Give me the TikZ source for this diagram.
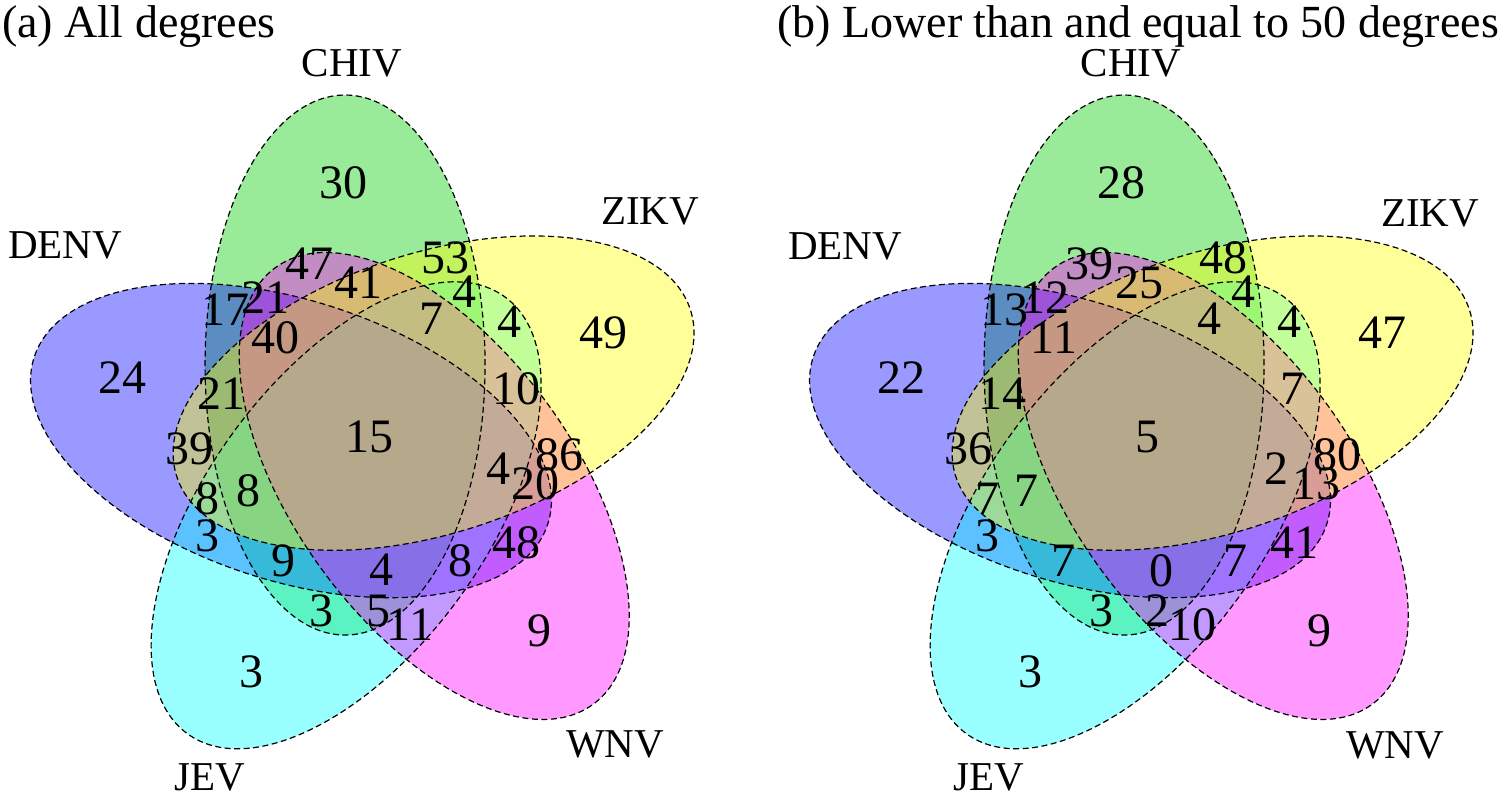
\documentclass[tikz,border=0pt]{standalone}
\usepackage{fontspec}
\setmainfont{Liberation Serif}
\definecolor{cCHIV}{RGB}{0,205,0}
\definecolor{cDENV}{RGB}{0,0,255}
\definecolor{cJEV}{RGB}{0,255,255}
\definecolor{cWNV}{RGB}{255,0,255}
\definecolor{cZIKV}{RGB}{255,255,0}
\begin{document}
\begin{tikzpicture}[x=1pt,y=1pt,
  vline/.style={draw=black, dash pattern=on 6pt off 3.5pt, line width=1.2pt},
  num/.style={inner sep=0pt, font=\fontsize{48}{50}\selectfont},
  setlabel/.style={inner sep=0pt, anchor=base, font=\fontsize{41}{44}\selectfont},
  ttl/.style={inner sep=0pt, anchor=base west, font=\fontsize{46}{48}\selectfont}]
\useasboundingbox (0,0) rectangle (1498,796);
\foreach \cx/\p in {370/a,1149/b}{
  \coordinate (C\p) at (\cx,356);
  \foreach \k/\col in {0/cCHIV,1/cDENV,2/cJEV,3/cWNV,4/cZIKV}{
    \begin{scope}[shift={(C\p)}, rotate=72*\k]
      \fill[\col, fill opacity=0.4] (108.4:79pt) ellipse [x radius=140pt, y radius=270pt];
    \end{scope}
  }
  \foreach \k in {0,...,4}{
    \begin{scope}[shift={(C\p)}, rotate=72*\k]
      \draw[vline] (108.4:79pt) ellipse [x radius=140pt, y radius=270pt];
    \end{scope}
  }
}
% titles
\node[ttl] (ta) at (2,758) {(a) All degrees};
\node[ttl] (tb) at (777,758) {(b) Lower than and equal to 50 degrees};
% set labels
\node[setlabel] (aDENV) at (65,537) {DENV};
\node[setlabel] (aCHIV) at (352,719) {CHIV};
\node[setlabel] (aZIKV) at (650,571) {ZIKV};
\node[setlabel] (aWNV) at (615,39) {WNV};
\node[setlabel] (aJEV) at (210,6) {JEV};
\node[setlabel] (bDENV) at (845,536) {DENV};
\node[setlabel] (bCHIV) at (1131,719) {CHIV};
\node[setlabel] (bZIKV) at (1430,569) {ZIKV};
\node[setlabel] (bWNV) at (1395,38) {WNV};
\node[setlabel] (bJEV) at (989,6) {JEV};
% numbers panel a
\foreach \x/\y/\t [count=\i] in {343/183/30, 122/378/24, 225/310/17, 265/298/21, 309/264/47,
  275/338/40, 221/394/21, 358/283/41, 445/258/53, 464/292/4, 431/319/7, 509/322/4,
  603/333/49, 516/389/10, 369/437/15, 189/449/39, 207/499/8, 248/491/8, 207/536/3,
  283/561/9, 321/611/3, 251/672/3, 381/570/4, 378/611/5, 410/625/11, 460/561/8,
  516/543/48, 539/631/9, 498/469/4, 535/484/20, 559/455/86}
  \node[num] (a\i) at (\x,796-\y) {\t};
% numbers panel b
\foreach \x/\y/\t [count=\i] in {1121/183/28, 901/378/22, 1004/310/13, 1045/298/12, 1089/264/39,
  1054/338/11, 1002/394/14, 1139/283/25, 1223/258/48, 1243/292/4, 1209/319/4, 1289/322/4,
  1382/333/47, 1292/389/7, 1147/437/5, 968/449/36, 987/499/7, 1026/491/7, 987/536/3,
  1063/561/7, 1101/611/3, 1030/672/3, 1161/571/0, 1157/611/2, 1192/625/10, 1235/561/7,
  1294/543/41, 1319/631/9, 1276/469/2, 1316/484/13, 1337/455/80}
  \node[num] (b\i) at (\x,796-\y) {\t};
\end{tikzpicture}
\end{document}
